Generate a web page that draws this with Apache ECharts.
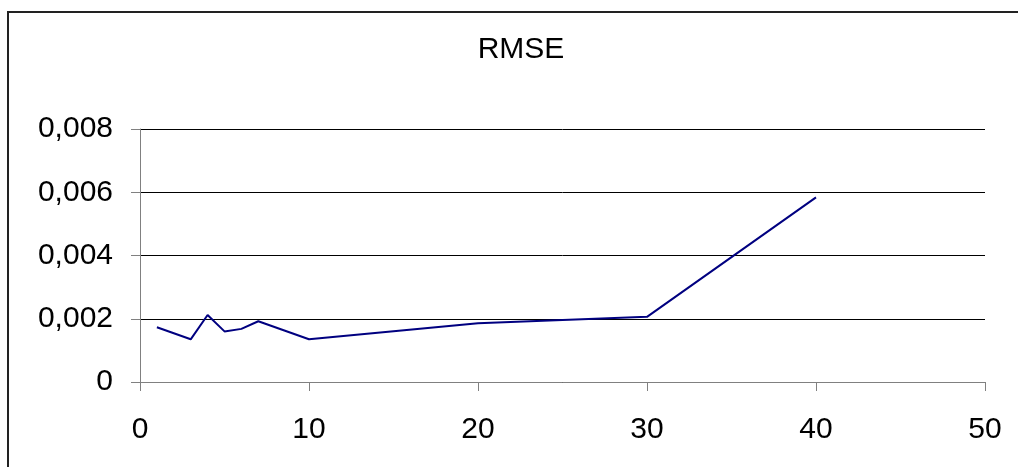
<!DOCTYPE html>
<html>
<head>
<meta charset="utf-8">
<script src="https://cdn.jsdelivr.net/npm/echarts@6/dist/echarts.min.js"></script>
<style>
  html, body { margin: 0; padding: 0; background: #fff; }
  #chart { width: 1018px; height: 467px; }
</style>
</head>
<body>
<div id="chart"></div>
<script>
// RMSE by x value
const xValues = [1, 3, 4, 5, 6, 7, 10, 20, 30, 40];
const rmseValues = [0.00173, 0.00135, 0.00212, 0.0016, 0.00168, 0.00192, 0.00135, 0.00186, 0.00206, 0.00584];
const titleText = 'RMSE';

const FONT = '"Liberation Sans", Arial, sans-serif';

const chart = echarts.init(document.getElementById('chart'), null, { renderer: 'canvas' });

chart.setOption({
  animation: false,
  backgroundColor: '#ffffff',
  title: {
    text: titleText,
    left: 516,
    textAlign: 'center',
    top: 30,
    textStyle: { fontFamily: FONT, fontSize: 30, fontWeight: 'normal', color: '#000' }
  },
  graphic: [{
    type: 'rect',
    shape: { x: 8, y: 12, width: 1100, height: 600 },
    style: { fill: 'none', stroke: '#222', lineWidth: 2 },
    silent: true
  }],
  grid: { left: 140, right: 33, top: 129, bottom: 85, containLabel: false },
  xAxis: {
    type: 'value',
    min: 0,
    max: 50,
    interval: 10,
    axisLine: { show: true, lineStyle: { color: '#808080', width: 1 } },
    axisTick: { show: true, inside: false, length: 9, lineStyle: { color: '#808080' } },
    axisLabel: { fontFamily: FONT, fontSize: 30, color: '#000', margin: 33 },
    splitLine: { show: false }
  },
  yAxis: {
    type: 'value',
    min: 0,
    max: 0.008,
    interval: 0.002,
    axisLine: { show: true, lineStyle: { color: '#808080', width: 1 } },
    axisTick: { show: true, inside: false, length: 9, lineStyle: { color: '#808080' } },
    axisLabel: {
      fontFamily: FONT, fontSize: 30, color: '#000', margin: 27,
      formatter: v => (v === 0 ? '0' : v.toFixed(3).replace('.', ','))
    },
    splitLine: { show: true, lineStyle: { color: '#000', width: 1 } }
  },
  series: [{
    type: 'line',
    data: xValues.map((x, i) => [x, rmseValues[i]]),
    showSymbol: false,
    symbol: 'none',
    lineStyle: { color: '#000080', width: 2 },
    itemStyle: { color: '#000080' }
  }]
});
</script>
</body>
</html>
